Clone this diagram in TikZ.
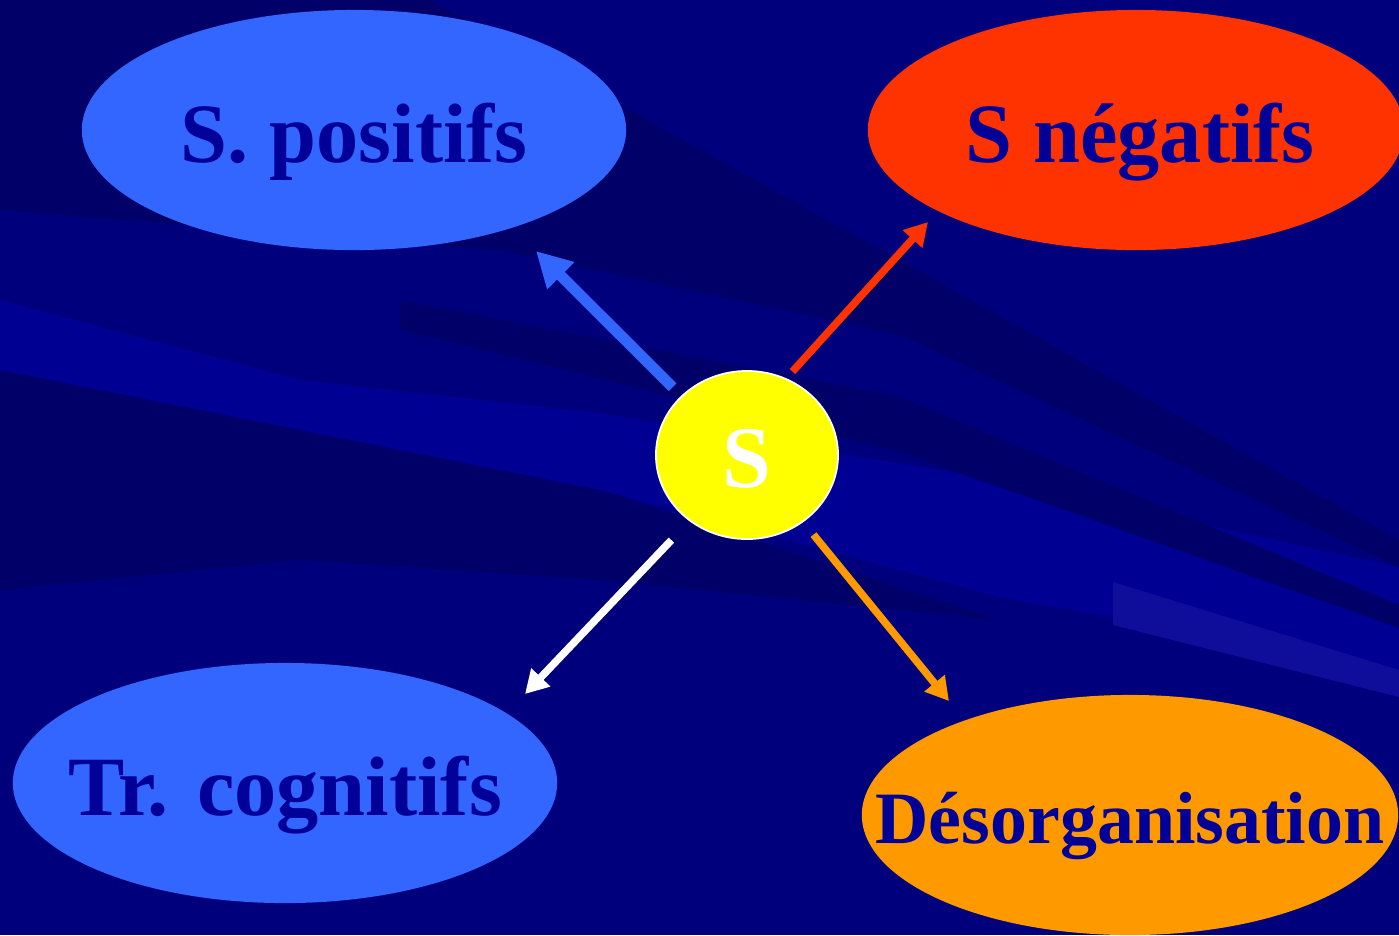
\documentclass[tikz,border=0pt]{standalone}
\usepackage{fontspec}
\setmainfont{Liberation Serif}
\usetikzlibrary{shapes.geometric,arrows.meta}
\definecolor{fondbleu}{RGB}{0,0,124}
\definecolor{fondsombre}{RGB}{0,0,104}
\definecolor{fondclair}{RGB}{0,0,146}
\definecolor{fondgris}{RGB}{14,14,154}
\definecolor{bleuclair}{RGB}{51,102,255}
\definecolor{rougevif}{RGB}{255,51,0}
\definecolor{orangevif}{RGB}{255,153,0}
\definecolor{jaune}{RGB}{255,255,0}
\definecolor{texte}{RGB}{0,0,153}
\tikzset{
  bulle/.style={ellipse, minimum width=5.44cm, minimum height=2.4cm, inner sep=0pt, outer sep=0pt},
  titre/.style={font=\fontsize{24}{28}\selectfont\bfseries, text=texte, inner sep=0pt, text height=0.64cm, text depth=0pt},
  fleche/.style={line width=0.075cm, -{Triangle[length=0.23cm,width=0.25cm]}}
}
\begin{document}
\begin{tikzpicture}[x=0.01cm,y=-0.01cm]
\useasboundingbox (0,0) rectangle (1399,935);
\clip (0,0) rectangle (1399,935);
\fill[fondbleu] (0,0) rectangle (1399,935);
\fill[fondsombre] (0,0) -- (430,0) -- (900,260) -- (1399,540) -- (1399,567) -- (900,335) -- (500,250) -- (0,210) -- cycle;
\fill[fondclair] (0,300) -- (300,380) -- (600,413) -- (1000,480) -- (1399,567) -- (1399,670) -- (1000,597) -- (600,490) -- (300,430) -- (0,370) -- cycle;
\fill[fondsombre] (400,300) -- (900,397) -- (1399,605) -- (1399,628) -- (900,452) -- (400,330) -- cycle;
\fill[fondsombre] (0,370) -- (300,430) -- (600,490) -- (1000,620) -- (600,580) -- (300,560) -- (0,590) -- cycle;
\fill[fondgris] (1113,582) -- (1399,670) -- (1399,697) -- (1113,625) -- cycle;

\node[bulle, fill=bleuclair, label={[titre]center:S. positifs}] (pos) at (354,130) {};
\node[bulle, fill=rougevif, minimum width=5.36cm, label={[titre, xshift=0.04cm]center:S négatifs}] (neg) at (1136,130) {};
\node[bulle, fill=bleuclair, label={[titre]center:Tr. cognitifs}] (cog) at (285,783) {};
\node[bulle, fill=orangevif, minimum width=5.36cm, label={[titre, font=\fontsize{21}{25}\selectfont\bfseries, text height=0.56cm]center:Désorganisation}] (deso) at (1130,815) {};
\node[ellipse, fill=jaune, draw=white, line width=0.5pt, minimum width=1.82cm, minimum height=1.68cm, inner sep=0pt, outer sep=0pt,
  font=\fontsize{25}{30}\selectfont\bfseries, text=white, text height=0.64cm, text depth=0pt] (S) at (747,455) {S};

\coordinate (tipP) at (536,251);
\coordinate (tipN) at (928,222);
\coordinate (tipC) at (525,694);
\coordinate (tipD) at (949,701);
\draw[fleche, bleuclair, line width=0.11cm, -{Triangle[length=0.35cm,width=0.36cm]}, shorten <=0.13cm] (S.138) -- (tipP);
\draw[fleche, rougevif, shorten <=0.1cm] (S.63) -- (tipN);
\draw[fleche, white, shorten <=0.27cm] (S.229) -- (tipC);
\draw[fleche, orangevif, shorten <=0.17cm] (S.310) -- (tipD);
\end{tikzpicture}
\end{document}
